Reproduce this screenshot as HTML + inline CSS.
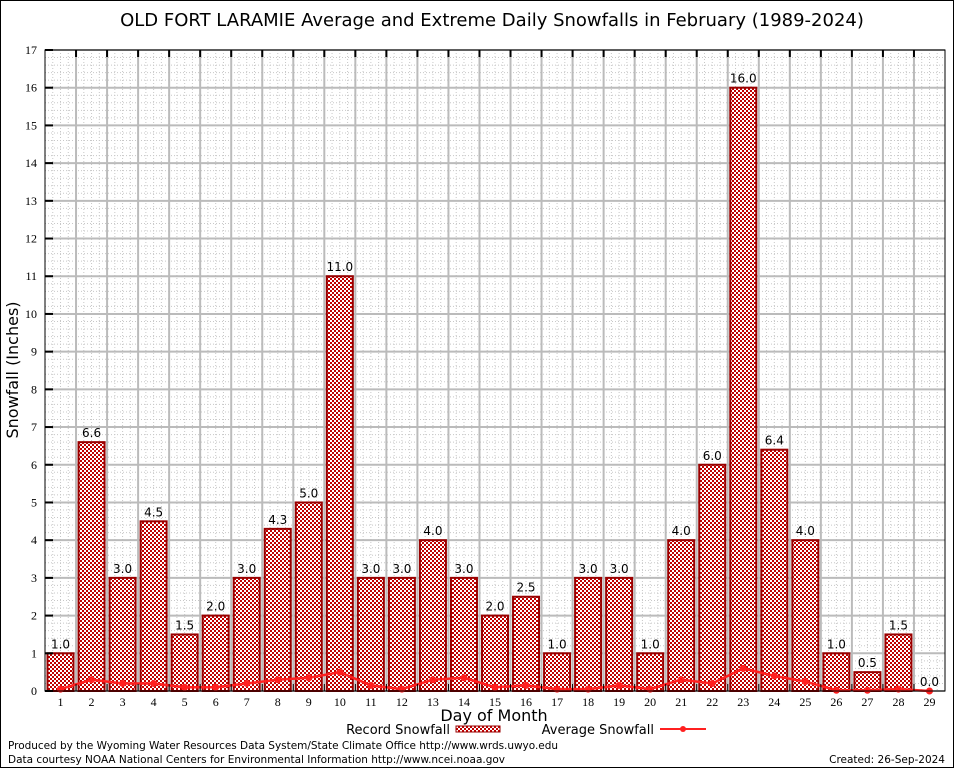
<!DOCTYPE html>
<html><head><meta charset="utf-8"><style>
body{margin:0;background:#fff}
svg{display:block;font-family:"DejaVu Sans","Liberation Sans",sans-serif}
</style></head><body>
<svg id="c" width="954" height="768">
<defs>
<pattern id="hatch" width="4" height="4" patternUnits="userSpaceOnUse">
<rect width="4" height="4" fill="#fff"/>
<rect x="0" y="0" width="2" height="2" fill="#c00000"/>
<rect x="2" y="2" width="2" height="2" fill="#c00000"/>
</pattern>
</defs>
<rect x="0.5" y="0.5" width="953" height="767" fill="#fff" stroke="#000"/>
<text x="492" y="26" font-size="18" text-anchor="middle">OLD FORT LARAMIE Average and Extreme Daily Snowfalls in February (1989-2024)</text>
<g id="grid"></g>
<g id="bars"></g>
<g id="avg"></g>
<g id="axes"></g>
<text x="18" y="370" font-size="16" text-anchor="middle" transform="rotate(-90 18 370)">Snowfall (Inches)</text>
<text x="494" y="721" font-size="16" text-anchor="middle">Day of Month</text>
<g>
<text x="450" y="734" font-size="13" text-anchor="end">Record Snowfall</text>
<rect x="456" y="726" width="44" height="6" fill="url(#hatch)" stroke="#990000"/>
<text x="654" y="734" font-size="13" text-anchor="end">Average Snowfall</text>
<line x1="660" y1="729" x2="706" y2="729" stroke="#ff2020" stroke-width="2"/>
<circle cx="683" cy="729" r="3" fill="#ff2020"/>
</g>
<text x="8" y="749" font-size="10.5" textLength="550">Produced by the Wyoming Water Resources Data System/State Climate Office http://www.wrds.uwyo.edu</text>
<text x="8" y="763" font-size="10.5" textLength="497">Data courtesy NOAA National Centers for Environmental Information http://www.ncei.noaa.gov</text>
<text x="945" y="763" font-size="10.5" text-anchor="end">Created: 26-Sep-2024</text>
</svg>
<script>
const days=[1,2,3,4,5,6,7,8,9,10,11,12,13,14,15,16,17,18,19,20,21,22,23,24,25,26,27,28,29];
const recordValues=[1.0,6.6,3.0,4.5,1.5,2.0,3.0,4.3,5.0,11.0,3.0,3.0,4.0,3.0,2.0,2.5,1.0,3.0,3.0,1.0,4.0,6.0,16.0,6.4,4.0,1.0,0.5,1.5,0.0];
const averageValues=[0.05,0.3,0.2,0.2,0.1,0.1,0.2,0.3,0.35,0.5,0.15,0.05,0.3,0.35,0.1,0.15,0.05,0.05,0.15,0.05,0.3,0.2,0.6,0.4,0.25,0.02,0.02,0.05,0.0];
const yTicks=[0,1,2,3,4,5,6,7,8,9,10,11,12,13,14,15,16,17];
const NS='http://www.w3.org/2000/svg';
const L=45,R=945,T=50,B=691,YMAX=17;
const bw=(R-L)/days.length;
const xc=d=>L+(d-0.5)*bw;
const y=v=>B-v/YMAX*(B-T);
function mk(t,a,p){const e=document.createElementNS(NS,t);for(const k in a)e.setAttribute(k,a[k]);p.appendChild(e);return e;}
const grid=document.getElementById('grid'),bars=document.getElementById('bars'),avg=document.getElementById('avg'),axes=document.getElementById('axes');
for(let v=0;v<YMAX;v+=0.2){const yy=y(v);const e=mk('line',{x1:L,x2:R,y1:yy,y2:yy,stroke:'#c8c8c8','stroke-width':1,'stroke-dasharray':'1,2'},grid);

}
for(let i=0;i<days.length;i++){for(let j=1;j<4;j++){const xx=L+(i+j/4)*bw;const e=mk('line',{x1:xx,x2:xx,y1:T,y2:B,stroke:'#c8c8c8','stroke-width':1,'stroke-dasharray':'1,2'},grid);

}}
yTicks.forEach(v=>{const yy=y(v);const e=mk('line',{x1:L,x2:R,y1:yy,y2:yy,stroke:'#bbb','stroke-width':2},grid);


const t=mk('text',{x:L-8,y:yy+4,'font-size':12,'text-anchor':'end','font-family':'Liberation Serif,serif'},axes);t.textContent=v;


const tk=mk('line',{x1:L,x2:L+8,y1:yy,y2:yy,stroke:'#000','stroke-width':2},axes);

});
for(let i=1;i<days.length;i++){const xx=L+i*bw;const e=mk('line',{x1:xx,x2:xx,y1:T,y2:B,stroke:'#bbb','stroke-width':2},grid);


const tk=mk('line',{x1:xx,x2:xx,y1:T,y2:T+7,stroke:'#000','stroke-width':2},axes);


const tb=mk('line',{x1:xx,x2:xx,y1:B-7,y2:B,stroke:'#000','stroke-width':1},axes);

}
days.forEach((d,i)=>{const v=recordValues[i];const x0=xc(d)-13;
if(v>0){const r=mk('rect',{x:x0,y:y(v),width:26,height:B-y(v),fill:'url(#hatch)',stroke:'#990000','stroke-width':2},bars);

}
const t=mk('text',{x:xc(d),y:y(v)-5,'font-size':12,'text-anchor':'middle'},bars);t.textContent=v.toFixed(1);


const xl=mk('text',{x:xc(d),y:B+15,'font-size':12,'text-anchor':'middle','font-family':'Liberation Serif,serif'},axes);xl.textContent=d;

});
const pts=days.map((d,i)=>xc(d)+','+y(averageValues[i])).join(' ');
const pl=mk('polyline',{points:pts,fill:'none',stroke:'#ff2020','stroke-width':2.5},avg);


days.forEach((d,i)=>{const c=mk('circle',{cx:xc(d),cy:y(averageValues[i]),r:3.5,fill:'#ff2020'},avg);

});
const fr=mk('rect',{x:L,y:T,width:R-L,height:B-T,fill:'none',stroke:'#000','stroke-width':1},axes);


</script>
</body></html>
